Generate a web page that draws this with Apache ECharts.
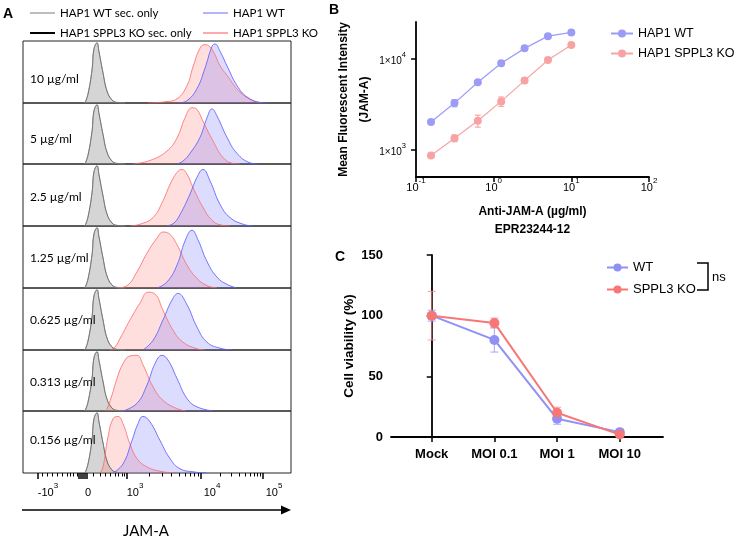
<!DOCTYPE html>
<html>
<head>
<meta charset="utf-8">
<script src="https://cdn.jsdelivr.net/npm/echarts@6/dist/echarts.min.js"></script>
<style>
html, body { margin: 0; padding: 0; background: #fff; }
#chart { width: 737px; height: 540px; }
</style>
</head>
<body>
<div id="chart"></div>
<script>
// ---- A: histograms (x in display channel units, y in % of mode) ----
let rowLabels = ['10 µg/ml', '5 µg/ml', '2.5 µg/ml', '1.25 µg/ml', '0.625 µg/ml', '0.313 µg/ml', '0.156 µg/ml'];
let secOnly = [[62,0],[65,15],[69,55],[71,90],[74,100],[76,85],[80,50],[84,20],[89,5],[94,1],[102,0]];
let koHist = [
    [[125,0],[142,2],[154,7],[164,29],[170,60],[177,91],[182,97],[187,93],[192,80],[197,62],[204,46],[217,18],[230,4],[239,0]],
    [[110,0],[127,6],[144,22],[154,44],[162,78],[169,95],[174,92],[180,72],[190,39],[200,11],[210,1],[217,0]],
    [[107,0],[117,3],[130,14],[140,42],[147,69],[154,89],[159,94],[164,86],[170,64],[180,31],[190,8],[200,1],[207,0]],
    [[94,0],[104,4],[114,27],[124,58],[134,83],[140,93],[147,89],[154,72],[164,38],[174,16],[184,4],[194,0]],
    [[87,0],[92,5],[97,19],[107,50],[117,78],[125,96],[132,93],[140,66],[150,33],[160,13],[174,2],[182,0]],
    [[82,0],[84,4],[89,27],[94,55],[100,80],[107,93],[114,94],[120,78],[130,41],[140,18],[154,4],[163,0]],
    [[77,0],[80,10],[85,60],[90,90],[95,94],[100,82],[107,48],[114,24],[124,10],[137,3],[150,0]]
];
let wtHist = [
    [[155,0],[164,4],[174,24],[182,58],[189,94],[192,98],[197,86],[205,58],[214,29],[224,10],[237,1],[245,0]],
    [[154,0],[160,5],[167,18],[177,45],[184,78],[189,93],[194,81],[204,45],[214,18],[227,2],[235,0]],
    [[144,0],[151,5],[157,19],[167,53],[174,81],[180,94],[187,75],[197,36],[207,14],[220,3],[230,0]],
    [[134,0],[144,10],[154,38],[162,78],[169,96],[175,80],[184,44],[194,18],[204,6],[214,0]],
    [[120,0],[130,16],[140,50],[149,83],[155,94],[164,75],[174,38],[184,13],[197,3],[210,0]],
    [[100,0],[114,13],[124,44],[132,80],[139,94],[145,86],[154,55],[164,21],[174,7],[190,0]],
    [[90,0],[100,15],[109,54],[115,82],[120,94],[127,85],[137,54],[147,24],[157,7],[170,2],[184,0]]
];
// A axis (biexponential display), tick positions in the same channel units
let aMajorTicks = [15, 56, 58, 60, 62, 64, 104, 178, 240];
let aMinorTicks = [19,24,29,34,39,44,47,50,54, 70,77,82,87,92,95,99,101, 126,139,148,156,162,167,171,175, 197,208,216,222,227,231,234,237];
let aLabelPos = [25, 65, 112, 189, 251];
let aLabelBase = ['-10', '0', '10', '10', '10'];
let aLabelExp = ['3', '', '3', '4', '5'];

// ---- B: titration ----
let bConc = [0.156, 0.313, 0.625, 1.25, 2.5, 5, 10];
let bWT = [2000, 3230, 5470, 8820, 12850, 17500, 19200];
let bWTerr = [80, 290, 200, 300, 400, 500, 600];
let bKO = [860, 1330, 2070, 3370, 5700, 9580, 13970];
let bKOerr = [40, 110, 310, 400, 300, 400, 500];
let bXTicks = [0.1, 1, 10, 100];
let bXExp = ['-1', '0', '1', '2'];
let bYTicks = [1000, 10000];
let bYExp = ['3', '4'];

// ---- C: viability ----
let cCats = ['Mock', 'MOI 0.1', 'MOI 1', 'MOI 10'];
let cWT = [100, 80, 15, 4];
let cWTerr = [4.5, 10, 4.5, 1];
let cKO = [100, 94, 20, 2];
let cKOerr = [20, 4, 4.5, 1];

let colBlueA = 'rgba(95,95,255,0.85)';
let colRedA = 'rgba(255,105,105,0.8)';
let colBlueB = '#9c9cf7';
let colRedB = '#f7a3a3';
let colBlueC = '#9090f5';
let colRedC = '#f77676';

let supRich = {
    b: { fontSize: 11, fontFamily: 'Liberation Sans', color: '#000', verticalAlign: 'bottom', padding: [5, 0, 0, 0] },
    s: { fontSize: 8, fontFamily: 'Liberation Sans', color: '#000', verticalAlign: 'top' }
};
let smallRich = {
    b: { fontSize: 10, fontFamily: 'Liberation Sans', color: '#000', verticalAlign: 'bottom', padding: [5, 0, 0, 0] },
    s: { fontSize: 7.5, fontFamily: 'Liberation Sans', color: '#000', verticalAlign: 'top' }
};
function supText(base, exp) {
    return exp ? '{b|' + base + '}{s|' + exp + '}' : '{b|' + base + '}';
}

// 误差线
function errorBars(xi, yi, xs, ys, errs, color, cap) {
    let data = [];
    for (let i = 0; i < xs.length; i++) {
        data.push([xs[i], ys[i] - errs[i], ys[i] + errs[i]]);
    }
    return {
        type: 'custom', xAxisIndex: xi, yAxisIndex: yi, z: 1, silent: true,
        encode: { x: 0, y: [1, 2] },
        data: data,
        renderItem: function (params, api) {
            let lo = api.coord([api.value(0), api.value(1)]);
            let hi = api.coord([api.value(0), api.value(2)]);
            let st = { stroke: color, lineWidth: 1.2 };
            return {
                type: 'group', children: [
                    { type: 'line', shape: { x1: lo[0], y1: lo[1], x2: hi[0], y2: hi[1] }, style: st },
                    { type: 'line', shape: { x1: lo[0] - cap, y1: lo[1], x2: lo[0] + cap, y2: lo[1] }, style: st },
                    { type: 'line', shape: { x1: hi[0] - cap, y1: hi[1], x2: hi[0] + cap, y2: hi[1] }, style: st }
                ]
            };
        }
    };
}

let option = {
    animation: false,
    backgroundColor: '#fff',
    textStyle: { fontFamily: 'Liberation Sans' },
    grid: [], xAxis: [], yAxis: [], series: [], legend: [], graphic: []
};

// ---- panel B (series first so its legend uses these icons) ----
option.grid.push({ left: 416, top: 22, width: 233, height: 155 });   // grid 0
option.xAxis.push({
    type: 'log', gridIndex: 0, min: 0.1, max: 100,
    name: 'Anti-JAM-A (µg/ml)\nEPR23244-12', nameLocation: 'middle', nameGap: 26,
    nameTextStyle: { fontSize: 12, fontWeight: 'bold', color: '#000', lineHeight: 18 },
    axisLine: { lineStyle: { color: '#000', width: 1.8 } },
    axisTick: { customValues: bXTicks, length: 5, lineStyle: { color: '#000', width: 1.5 } },
    axisLabel: {
        customValues: bXTicks, margin: 0, rich: supRich,
        formatter: function (v) { return supText('10', bXExp[bXTicks.indexOf(v)]); }
    },
    splitLine: { show: false }, minorTick: { show: false }
});
option.yAxis.push({
    type: 'log', gridIndex: 0, min: 500, max: 25000,
    name: 'Mean Fluorescent Intensity\n(JAM-A)', nameLocation: 'middle', nameGap: 37,
    nameTextStyle: { fontSize: 12, fontWeight: 'bold', color: '#000', lineHeight: 21 },
    axisLine: { show: true, lineStyle: { color: '#000', width: 1.8 } },
    axisTick: { show: true, customValues: bYTicks, length: 5, lineStyle: { color: '#000', width: 1.5 } },
    axisLabel: {
        customValues: bYTicks, margin: 10, rich: smallRich,
        formatter: function (v) { return supText('1×10', bYExp[bYTicks.indexOf(v)]); }
    },
    splitLine: { show: false }
});
option.series.push(errorBars(0, 0, bConc, bWT, bWTerr, 'rgba(150,150,245,0.8)', 3));
option.series.push(errorBars(0, 0, bConc, bKO, bKOerr, 'rgba(245,150,150,0.8)', 3));
option.series.push({
    type: 'line', name: 'HAP1 WT', xAxisIndex: 0, yAxisIndex: 0,
    data: bConc.map(function (c, i) { return [c, bWT[i]]; }),
    symbol: 'circle', symbolSize: 8, itemStyle: { color: colBlueB },
    lineStyle: { color: colBlueB, width: 1.2 }, z: 3
});
option.series.push({
    type: 'line', name: 'HAP1 SPPL3 KO', xAxisIndex: 0, yAxisIndex: 0,
    data: bConc.map(function (c, i) { return [c, bKO[i]]; }),
    symbol: 'circle', symbolSize: 8, itemStyle: { color: colRedB },
    lineStyle: { color: colRedB, width: 1.2 }, z: 3
});
option.legend.push({
    data: ['HAP1 WT', 'HAP1 SPPL3 KO'], left: 605, top: 21, orient: 'vertical',
    itemWidth: 22, itemHeight: 10, itemGap: 5,
    textStyle: { fontSize: 12.5, color: '#000', lineHeight: 15, fontFamily: 'Liberation Sans' }
});

// ---- panel C ----
option.grid.push({ left: 391, top: 255, width: 272, height: 182 });   // grid 1
option.xAxis.push({
    type: 'value', gridIndex: 1, min: -0.65, max: 3.69,
    axisLine: { lineStyle: { color: '#000', width: 1.8 } },
    axisTick: { customValues: [0, 1, 2, 3], length: 5, lineStyle: { color: '#000', width: 1.5 } },
    axisLabel: {
        customValues: [0, 1, 2, 3], margin: 11, fontSize: 13, fontWeight: 'bold', color: '#000',
        formatter: function (v) { return cCats[v]; }
    },
    splitLine: { show: false }
});
option.yAxis.push({
    type: 'value', gridIndex: 1, min: 0, max: 150, interval: 50,
    name: 'Cell viability (%)', nameLocation: 'middle', nameGap: 35,
    nameTextStyle: { fontSize: 13.5, fontWeight: 'bold', color: '#000' },
    axisLine: { show: true, lineStyle: { color: '#000', width: 1.8 } },
    axisTick: { show: true, length: 5, lineStyle: { color: '#000', width: 1.5 } },
    axisLabel: { margin: 8, fontSize: 13, fontWeight: 'bold', color: '#000' },
    splitLine: { show: false }
});
let cIdx = [0, 1, 2, 3];
option.series.push(errorBars(1, 1, cIdx, cWT, cWTerr, 'rgba(150,150,245,0.7)', 4));
option.series.push(errorBars(1, 1, cIdx, cKO, cKOerr, 'rgba(245,140,140,0.7)', 4));
option.series.push({
    type: 'line', name: 'WT', xAxisIndex: 1, yAxisIndex: 1,
    data: cIdx.map(function (i) { return [i, cWT[i]]; }),
    symbol: 'circle', symbolSize: 10, itemStyle: { color: colBlueC },
    lineStyle: { color: colBlueC, width: 2 }, z: 3
});
option.series.push({
    type: 'line', name: 'SPPL3 KO', xAxisIndex: 1, yAxisIndex: 1,
    data: cIdx.map(function (i) { return [i, cKO[i]]; }),
    symbol: 'circle', symbolSize: 10, itemStyle: { color: colRedC },
    lineStyle: { color: colRedC, width: 2 }, z: 3
});
option.legend.push({
    data: ['WT', 'SPPL3 KO'], left: 601, top: 255, orient: 'vertical',
    itemWidth: 21, itemHeight: 10, itemGap: 7,
    textStyle: { fontSize: 13, color: '#000', lineHeight: 15, fontFamily: 'Liberation Sans' }
});

// ---- panel A: 7 stacked histogram rows ----
let rowTop = 41, rowH = 61.7;
let labelOffset = [38, 36, 33, 32, 32, 32, 29];
for (let i = 0; i < 7; i++) {
    let top = Math.round(rowTop + i * rowH);
    let h = Math.round(rowTop + (i + 1) * rowH) - top;
    let gi = option.grid.length;
    let xi = option.xAxis.length;
    let yi = option.yAxis.length;
    let last = i === 6;
    option.grid.push({ left: 23, top: top, width: 268, height: h, show: true, borderColor: '#222', borderWidth: 1, backgroundColor: 'rgba(0,0,0,0)' });
    option.xAxis.push({
        type: 'value', gridIndex: gi, min: 0, max: 268, show: last, position: 'bottom',
        axisLine: { show: false }, splitLine: { show: false },
        axisTick: { show: last, customValues: aMajorTicks, length: 6, lineStyle: { color: '#000', width: 1.5 } },
        axisLabel: {
            show: last, customValues: aLabelPos, margin: 9, rich: supRich,
            formatter: function (v) {
                let k = aLabelPos.indexOf(v);
                return supText(aLabelBase[k], aLabelExp[k]);
            }
        }
    });
    option.yAxis.push({ type: 'value', gridIndex: gi, min: 0, max: 103, show: false });
    let common = { type: 'line', xAxisIndex: xi, yAxisIndex: yi, symbol: 'none', smooth: 0.45, silent: true };
    option.series.push(Object.assign({}, common, {
        name: 'HAP1 WT sec. only', data: secOnly,
        lineStyle: { color: '#a8a8a8', width: 1 }, areaStyle: { color: 'rgba(145,145,145,0.55)' }, z: 2
    }));
    option.series.push(Object.assign({}, common, {
        name: 'HAP1 SPPL3 KO sec. only', data: secOnly,
        lineStyle: { color: '#666', width: 0.8 }, z: 2
    }));
    option.series.push(Object.assign({}, common, {
        name: 'HAP1 SPPL3 KO', data: koHist[i],
        lineStyle: { color: colRedA, width: 1 }, areaStyle: { color: 'rgba(255,120,120,0.35)' }, z: 2
    }));
    option.series.push(Object.assign({}, common, {
        name: 'HAP1 WT', data: wtHist[i],
        lineStyle: { color: colBlueA, width: 1 }, areaStyle: { color: 'rgba(110,110,255,0.35)' }, z: 2
    }));
    option.graphic.push({
        type: 'text', x: 30, y: top + labelOffset[i], z: 50,
        style: { text: rowLabels[i], fontSize: 12, fontFamily: 'Lato', fill: '#000', textVerticalAlign: 'middle' }
    });
}
// minor ticks under the last row
option.xAxis.push({
    type: 'value', gridIndex: option.grid.length - 1, min: 0, max: 268, position: 'bottom',
    axisLine: { show: false }, splitLine: { show: false }, axisLabel: { show: false },
    axisTick: { customValues: aMinorTicks, length: 3.5, lineStyle: { color: '#000', width: 1 } }
});

// A legends (line swatches)
option.legend.push({
    data: [
        { name: 'HAP1 WT sec. only', icon: 'rect', itemStyle: { color: '#bdbdbd' } },
        { name: 'HAP1 SPPL3 KO sec. only', icon: 'rect', itemStyle: { color: '#000' } }
    ],
    left: 25, top: 1, orient: 'vertical', itemWidth: 25, itemHeight: 2, itemGap: 6,
    textStyle: { fontSize: 11.5, color: '#000', lineHeight: 14, fontFamily: 'Lato' }
});
option.legend.push({
    data: [
        { name: 'HAP1 WT', icon: 'rect', itemStyle: { color: '#b4b4ff' } },
        { name: 'HAP1 SPPL3 KO', icon: 'rect', itemStyle: { color: '#ffaaaa' } }
    ],
    left: 198, top: 1, orient: 'vertical', itemWidth: 25, itemHeight: 2, itemGap: 6,
    textStyle: { fontSize: 11.5, color: '#000', lineHeight: 14, fontFamily: 'Lato' }
});

// letters, arrow, bracket
option.graphic.push(
    { type: 'text', x: 8, y: 14, style: { text: 'A', fontSize: 14, fontWeight: 'bold', fill: '#000', textAlign: 'center', textVerticalAlign: 'middle' } },
    { type: 'text', x: 334, y: 10, style: { text: 'B', fontSize: 14, fontWeight: 'bold', fill: '#000', textAlign: 'center', textVerticalAlign: 'middle' } },
    { type: 'text', x: 340, y: 257, style: { text: 'C', fontSize: 14, fontWeight: 'bold', fill: '#000', textAlign: 'center', textVerticalAlign: 'middle' } },
    { type: 'line', shape: { x1: 22, y1: 510, x2: 283, y2: 510 }, style: { stroke: '#000', lineWidth: 1.5 } },
    { type: 'polygon', shape: { points: [[281, 505.5], [291, 510], [281, 514.5]] }, style: { fill: '#000' } },
    { type: 'text', x: 146, y: 531, style: { text: 'JAM-A', fontSize: 15, fontFamily: 'Lato', fill: '#000', textAlign: 'center', textVerticalAlign: 'middle' } },
    { type: 'polyline', shape: { points: [[697, 263], [708, 263], [708, 290], [697, 290]] }, style: { stroke: '#000', lineWidth: 1.5, fill: null } },
    { type: 'text', x: 712, y: 277, style: { text: 'ns', fontSize: 13, fill: '#000', textVerticalAlign: 'middle' } }
);

let chart = echarts.init(document.getElementById('chart'));
chart.setOption(option);
</script>
</body>
</html>
